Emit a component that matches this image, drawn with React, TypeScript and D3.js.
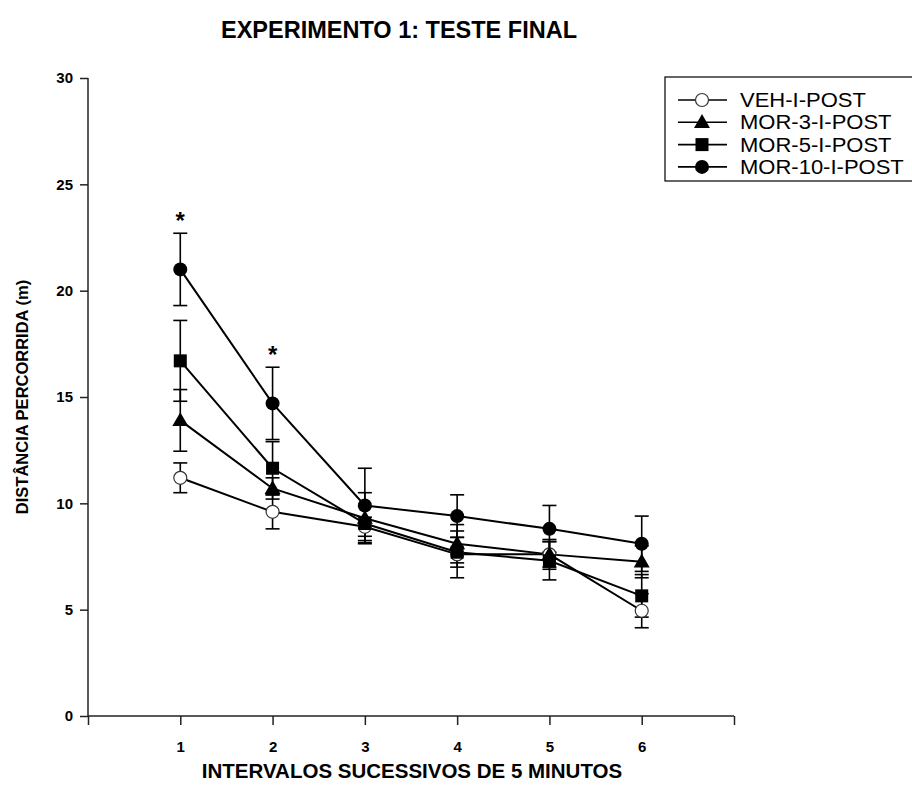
import React, { useEffect, useRef } from "react";
import * as d3 from "d3";

// intervals (x) and group means / SEM
const intervals = [1, 2, 3, 4, 5, 6];
const groupNames = ["VEH-I-POST", "MOR-3-I-POST", "MOR-5-I-POST", "MOR-10-I-POST"];
const symbols = ["openCircle", "triangle", "square", "circle"];

const vehMean = [11.2, 9.6, 8.9, 7.6, 7.6, 4.95];
const vehErr = [0.7, 0.8, 0.45, 1.1, 0.6, 0.8];
const mor3Mean = [13.9, 10.7, 9.3, 8.1, 7.6, 7.25];
const mor3Err = [1.45, 0.5, 1.2, 0.9, 0.7, 0.75];
const mor5Mean = [16.7, 11.65, 9.05, 7.7, 7.3, 5.65];
const mor5Err = [1.9, 1.25, 0.8, 0.7, 0.9, 1.0];
const mor10Mean = [21.0, 14.7, 9.9, 9.4, 8.8, 8.1];
const mor10Err = [1.7, 1.7, 1.75, 1.0, 1.1, 1.3];

// intervals that got a significance star (drawn over MOR-10)
const starIntervals = [1, 2];

const xTicks = [0, 1, 2, 3, 4, 5, 6, 7];
const yTicks = [0, 5, 10, 15, 20, 25, 30];

const App = () => {
  const svgRef = useRef(null);

  useEffect(() => {
    const width = 912;
    const height = 791;
    const svg = d3.select(svgRef.current);
    svg.selectAll("*").remove();
    svg.attr("width", width).attr("height", height);

    const font = "Arial, 'Liberation Sans', sans-serif";

    const x = d3.scaleLinear().domain([0, 7]).range([88, 734]);
    const y = d3.scaleLinear().domain([0, 30]).range([716, 78]);

    const means = [vehMean, mor3Mean, mor5Mean, mor10Mean];
    const errs = [vehErr, mor3Err, mor5Err, mor10Err];
    const series = groupNames.map((name, i) => ({
      name,
      symbol: symbols[i],
      values: intervals.map((t, j) => ({ t, m: means[i][j], e: errs[i][j] })),
    }));

    // title
    svg
      .append("text")
      .attr("x", 399)
      .attr("y", 38)
      .attr("text-anchor", "middle")
      .attr("font-family", font)
      .attr("font-weight", "bold")
      .attr("font-size", "23.5px")
      .text("EXPERIMENTO 1: TESTE FINAL");

    // axes
    const yAxis = d3.axisLeft(y).tickValues(yTicks).tickSize(8).tickPadding(7);
    const gy = svg.append("g").attr("transform", `translate(${x(0)},0)`).call(yAxis);
    const xAxis = d3
      .axisBottom(x)
      .tickValues(xTicks)
      .tickSize(9)
      .tickPadding(16)
      .tickFormat((d) => (d === 0 || d === 7 ? "" : String(d)));
    const gx = svg.append("g").attr("transform", `translate(0,${y(0)})`).call(xAxis);

    [gx, gy].forEach((g) => {
      g.select(".domain").attr("stroke", "#222").attr("stroke-width", 1.5);
      g.selectAll(".tick line").attr("stroke", "#222").attr("stroke-width", 1.5);
      g.selectAll(".tick text")
        .attr("font-family", font)
        .attr("font-weight", "bold")
        .attr("font-size", "15px")
        .attr("fill", "#000");
    });
    gy.select(".domain").attr("d", `M-0,${y(30)}H0V${y(0)}`);
    gx.select(".domain").attr("d", `M${x(0)},0H${x(7)}`);

    // axis titles
    svg
      .append("text")
      .attr("x", 412)
      .attr("y", 778)
      .attr("text-anchor", "middle")
      .attr("font-family", font)
      .attr("font-weight", "bold")
      .attr("font-size", "20.5px")
      .text("INTERVALOS SUCESSIVOS DE 5 MINUTOS");

    svg
      .append("text")
      .attr("transform", `translate(28,${y(15)}) rotate(-90)`)
      .attr("text-anchor", "middle")
      .attr("font-family", font)
      .attr("font-weight", "bold")
      .attr("font-size", "16.5px")
      .text("DISTÂNCIA PERCORRIDA (m)");

    // error bars
    const capHalf = 7;
    const eb = svg.append("g").attr("stroke", "#000").attr("stroke-width", 1.6);
    series.forEach((s) => {
      s.values.forEach((v) => {
        const cx = x(v.t);
        eb.append("line").attr("x1", cx).attr("x2", cx).attr("y1", y(v.m - v.e)).attr("y2", y(v.m + v.e));
        [v.m - v.e, v.m + v.e].forEach((val) => {
          eb.append("line")
            .attr("x1", cx - capHalf)
            .attr("x2", cx + capHalf)
            .attr("y1", y(val))
            .attr("y2", y(val));
        });
      });
    });

    // lines
    const line = d3
      .line()
      .x((d) => x(d.t))
      .y((d) => y(d.m));
    svg
      .append("g")
      .selectAll("path")
      .data(series)
      .join("path")
      .attr("d", (d) => line(d.values))
      .attr("fill", "none")
      .attr("stroke", "#000")
      .attr("stroke-width", 2);

    // markers
    const drawMarker = (g, sym, cx, cy) => {
      if (sym === "openCircle") {
        g.append("circle").attr("cx", cx).attr("cy", cy).attr("r", 6.5).attr("fill", "#fff").attr("stroke", "#333").attr("stroke-width", 1.2);
      } else if (sym === "circle") {
        g.append("circle").attr("cx", cx).attr("cy", cy).attr("r", 7).attr("fill", "#000");
      } else if (sym === "square") {
        g.append("rect").attr("x", cx - 6.5).attr("y", cy - 6.5).attr("width", 13).attr("height", 13).attr("fill", "#000");
      } else {
        g.append("path")
          .attr("d", d3.symbol(d3.symbolTriangle, 110)())
          .attr("transform", `translate(${cx},${cy + 1})`)
          .attr("fill", "#000");
      }
    };
    const mk = svg.append("g");
    series.forEach((s) => {
      s.values.forEach((v) => drawMarker(mk, s.symbol, x(v.t), y(v.m)));
    });

    // significance stars
    const top = series[3];
    starIntervals.forEach((t) => {
      const v = top.values.find((d) => d.t === t);
      svg
        .append("text")
        .attr("x", x(t))
        .attr("y", y(v.m + v.e) - 4)
        .attr("text-anchor", "middle")
        .attr("font-family", font)
        .attr("font-weight", "bold")
        .attr("font-size", "24px")
        .text("*");
    });

    // legend
    const lg = svg.append("g");
    lg.append("rect")
      .attr("x", 665)
      .attr("y", 77)
      .attr("width", 260)
      .attr("height", 104)
      .attr("fill", "#fff")
      .attr("stroke", "#000")
      .attr("stroke-width", 1.2);
    series.forEach((s, i) => {
      const ly = 100 + i * 22.3;
      lg.append("line").attr("x1", 678).attr("x2", 727).attr("y1", ly).attr("y2", ly).attr("stroke", "#000").attr("stroke-width", 1.6);
      drawMarker(lg, s.symbol, 702, ly);
      const t = lg
        .append("text")
        .attr("x", 740)
        .attr("y", ly + 7)
        .attr("font-family", font)
        .attr("font-size", "22px")
        .text(s.name);
      // keep the wide look of the original while fitting the row height
      const w = t.node().getComputedTextLength();
      t.attr("font-size", "19.5px").attr("textLength", w).attr("lengthAdjust", "spacingAndGlyphs");
    });
  }, []);

  return (
    <div style={{ position: "absolute", left: 0, top: 0 }}>
      <svg ref={svgRef} />
    </div>
  );
};

export default App;
